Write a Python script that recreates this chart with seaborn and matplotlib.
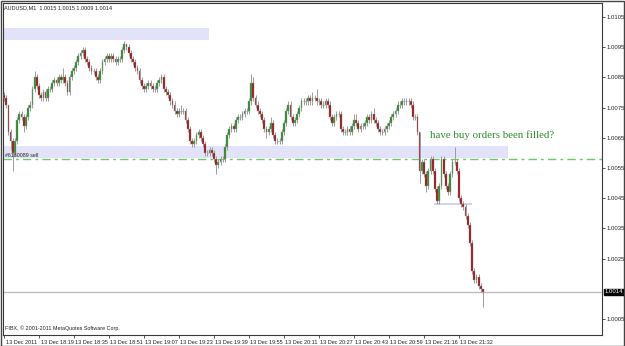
import numpy as np
import pandas as pd
import matplotlib
matplotlib.use("Agg")
import matplotlib.pyplot as plt
import matplotlib.transforms as mtransforms
from matplotlib.patches import Rectangle
from matplotlib import font_manager
import seaborn as sns

# ---------------- data ----------------
header_text = "AUDUSD,M1  1.0015 1.0015 1.0009 1.0014"
copyright_text = "FIBX, \u00a9 2001-2011 MetaQuotes Software Corp."
note_text = "have buy orders been filled?"
order_text = "#6180089 sell"

opens = [
    1.0079, 1.0078, 1.0076, 1.0067, 1.0064, 1.0060, 1.0064, 1.0071, 1.0073, 1.0072,
    1.0069, 1.0072, 1.0075, 1.0076, 1.0081, 1.0085, 1.0082, 1.0079, 1.0078, 1.0080,
    1.0078, 1.0081, 1.0081, 1.0083, 1.0084, 1.0083, 1.0085, 1.0084, 1.0085, 1.0083,
    1.0080, 1.0085, 1.0087, 1.0088, 1.0090, 1.0092, 1.0093, 1.0094, 1.0091, 1.0090,
    1.0088, 1.0087, 1.0087, 1.0085, 1.0084, 1.0087, 1.0090, 1.0091, 1.0092, 1.0091,
    1.0092, 1.0091, 1.0090, 1.0091, 1.0091, 1.0094, 1.0096, 1.0095, 1.0093, 1.0091,
    1.0090, 1.0088, 1.0087, 1.0084, 1.0082, 1.0081, 1.0082, 1.0083, 1.0082, 1.0081,
    1.0081, 1.0083, 1.0084, 1.0085, 1.0081, 1.0080, 1.0079, 1.0077, 1.0076, 1.0074,
    1.0073, 1.0074, 1.0074, 1.0074, 1.0071, 1.0068, 1.0064, 1.0063, 1.0064, 1.0066,
    1.0067, 1.0065, 1.0063, 1.0060, 1.0060, 1.0061, 1.0060, 1.0058, 1.0056, 1.0057,
    1.0058, 1.0058, 1.0062, 1.0066, 1.0068, 1.0069, 1.0068, 1.0071, 1.0072, 1.0072,
    1.0073, 1.0074, 1.0074, 1.0077, 1.0083, 1.0078, 1.0076, 1.0074, 1.0073, 1.0071,
    1.0068, 1.0067, 1.0068, 1.0070, 1.0066, 1.0064, 1.0064, 1.0064, 1.0067, 1.0070,
    1.0074, 1.0076, 1.0072, 1.0070, 1.0071, 1.0073, 1.0075, 1.0077, 1.0077, 1.0077,
    1.0078, 1.0077, 1.0078, 1.0078, 1.0077, 1.0077, 1.0076, 1.0076, 1.0077, 1.0076,
    1.0072, 1.0070, 1.0072, 1.0073, 1.0073, 1.0068, 1.0067, 1.0067, 1.0068, 1.0067,
    1.0069, 1.0071, 1.0070, 1.0068, 1.0069, 1.0069, 1.0070, 1.0072, 1.0071, 1.0073,
    1.0071, 1.0070, 1.0068, 1.0067, 1.0067, 1.0068, 1.0069, 1.0070, 1.0072, 1.0073,
    1.0074, 1.0076, 1.0076, 1.0077, 1.0077, 1.0077, 1.0077, 1.0076, 1.0072, 1.0072,
    1.0067, 1.0054, 1.0057, 1.0053, 1.0049, 1.0054, 1.0058, 1.0054, 1.0048, 1.0044,
    1.0049, 1.0058, 1.0053, 1.0049, 1.0047, 1.0053, 1.0057, 1.0057, 1.0054, 1.0045,
    1.0043, 1.0042, 1.0039, 1.0036, 1.0030, 1.0021, 1.0018, 1.0019, 1.0016, 1.0015,
]
highs = [
    1.0080, 1.0079, 1.0076, 1.0068, 1.0065, 1.0065, 1.0072, 1.0074, 1.0074, 1.0073,
    1.0073, 1.0076, 1.0077, 1.0082, 1.0087, 1.0086, 1.0083, 1.0080, 1.0081, 1.0081,
    1.0082, 1.0082, 1.0084, 1.0085, 1.0085, 1.0086, 1.0086, 1.0088, 1.0086, 1.0084,
    1.0086, 1.0088, 1.0089, 1.0091, 1.0093, 1.0094, 1.0095, 1.0095, 1.0092, 1.0091,
    1.0089, 1.0088, 1.0088, 1.0086, 1.0088, 1.0091, 1.0092, 1.0093, 1.0093, 1.0093,
    1.0093, 1.0092, 1.0092, 1.0092, 1.0095, 1.0097, 1.0096, 1.0096, 1.0094, 1.0092,
    1.0091, 1.0089, 1.0088, 1.0085, 1.0083, 1.0083, 1.0084, 1.0084, 1.0083, 1.0082,
    1.0084, 1.0085, 1.0086, 1.0086, 1.0082, 1.0081, 1.0080, 1.0078, 1.0077, 1.0075,
    1.0075, 1.0076, 1.0075, 1.0075, 1.0072, 1.0069, 1.0065, 1.0065, 1.0067, 1.0068,
    1.0068, 1.0066, 1.0064, 1.0061, 1.0062, 1.0062, 1.0061, 1.0059, 1.0058, 1.0059,
    1.0059, 1.0063, 1.0067, 1.0069, 1.0070, 1.0070, 1.0072, 1.0073, 1.0073, 1.0074,
    1.0075, 1.0075, 1.0078, 1.0086, 1.0085, 1.0079, 1.0077, 1.0075, 1.0074, 1.0072,
    1.0069, 1.0069, 1.0072, 1.0071, 1.0067, 1.0065, 1.0065, 1.0068, 1.0071, 1.0075,
    1.0077, 1.0077, 1.0073, 1.0072, 1.0074, 1.0076, 1.0078, 1.0078, 1.0078, 1.0079,
    1.0079, 1.0080, 1.0079, 1.0081, 1.0078, 1.0078, 1.0077, 1.0078, 1.0078, 1.0077,
    1.0073, 1.0073, 1.0074, 1.0074, 1.0074, 1.0069, 1.0068, 1.0069, 1.0069, 1.0070,
    1.0073, 1.0073, 1.0071, 1.0070, 1.0070, 1.0071, 1.0073, 1.0073, 1.0074, 1.0075,
    1.0072, 1.0071, 1.0069, 1.0068, 1.0069, 1.0070, 1.0071, 1.0073, 1.0074, 1.0075,
    1.0077, 1.0077, 1.0078, 1.0078, 1.0078, 1.0078, 1.0078, 1.0077, 1.0073, 1.0073,
    1.0067, 1.0058, 1.0058, 1.0054, 1.0055, 1.0059, 1.0059, 1.0055, 1.0049, 1.0050,
    1.0059, 1.0059, 1.0054, 1.0050, 1.0054, 1.0058, 1.0062, 1.0058, 1.0055, 1.0046,
    1.0044, 1.0043, 1.0040, 1.0037, 1.0031, 1.0022, 1.0020, 1.0020, 1.0017, 1.0015,
]
lows = [
    1.0077, 1.0075, 1.0066, 1.0061, 1.0054, 1.0059, 1.0063, 1.0070, 1.0071, 1.0067,
    1.0068, 1.0071, 1.0074, 1.0075, 1.0080, 1.0081, 1.0078, 1.0077, 1.0077, 1.0077,
    1.0077, 1.0080, 1.0080, 1.0082, 1.0082, 1.0082, 1.0083, 1.0083, 1.0082, 1.0079,
    1.0079, 1.0084, 1.0086, 1.0087, 1.0089, 1.0091, 1.0092, 1.0090, 1.0089, 1.0087,
    1.0086, 1.0086, 1.0084, 1.0083, 1.0083, 1.0086, 1.0089, 1.0090, 1.0090, 1.0090,
    1.0090, 1.0089, 1.0089, 1.0090, 1.0090, 1.0093, 1.0094, 1.0092, 1.0090, 1.0089,
    1.0087, 1.0086, 1.0083, 1.0081, 1.0080, 1.0080, 1.0081, 1.0081, 1.0080, 1.0080,
    1.0080, 1.0082, 1.0083, 1.0080, 1.0079, 1.0078, 1.0076, 1.0075, 1.0073, 1.0072,
    1.0072, 1.0073, 1.0073, 1.0070, 1.0067, 1.0063, 1.0062, 1.0062, 1.0063, 1.0065,
    1.0064, 1.0062, 1.0059, 1.0059, 1.0059, 1.0059, 1.0057, 1.0053, 1.0055, 1.0056,
    1.0057, 1.0057, 1.0061, 1.0065, 1.0067, 1.0067, 1.0067, 1.0070, 1.0071, 1.0071,
    1.0072, 1.0073, 1.0073, 1.0076, 1.0077, 1.0075, 1.0073, 1.0072, 1.0070, 1.0067,
    1.0065, 1.0066, 1.0067, 1.0065, 1.0063, 1.0063, 1.0063, 1.0063, 1.0066, 1.0069,
    1.0073, 1.0071, 1.0069, 1.0069, 1.0070, 1.0072, 1.0074, 1.0076, 1.0076, 1.0076,
    1.0076, 1.0076, 1.0077, 1.0076, 1.0076, 1.0075, 1.0075, 1.0075, 1.0075, 1.0071,
    1.0069, 1.0069, 1.0071, 1.0072, 1.0067, 1.0066, 1.0066, 1.0066, 1.0066, 1.0066,
    1.0068, 1.0069, 1.0067, 1.0067, 1.0068, 1.0068, 1.0069, 1.0070, 1.0070, 1.0070,
    1.0069, 1.0067, 1.0066, 1.0066, 1.0066, 1.0067, 1.0068, 1.0069, 1.0071, 1.0072,
    1.0073, 1.0075, 1.0075, 1.0076, 1.0076, 1.0076, 1.0075, 1.0071, 1.0071, 1.0066,
    1.0050, 1.0053, 1.0052, 1.0047, 1.0048, 1.0053, 1.0053, 1.0047, 1.0043, 1.0043,
    1.0048, 1.0052, 1.0048, 1.0046, 1.0046, 1.0052, 1.0056, 1.0053, 1.0044, 1.0042,
    1.0041, 1.0038, 1.0035, 1.0029, 1.0020, 1.0017, 1.0017, 1.0015, 1.0014, 1.0009,
]
closes = [
    1.0078, 1.0076, 1.0067, 1.0064, 1.0060, 1.0064, 1.0071, 1.0073, 1.0072, 1.0069,
    1.0072, 1.0075, 1.0076, 1.0081, 1.0085, 1.0082, 1.0079, 1.0078, 1.0080, 1.0078,
    1.0081, 1.0081, 1.0083, 1.0084, 1.0083, 1.0085, 1.0084, 1.0085, 1.0083, 1.0080,
    1.0085, 1.0087, 1.0088, 1.0090, 1.0092, 1.0093, 1.0094, 1.0091, 1.0090, 1.0088,
    1.0087, 1.0087, 1.0085, 1.0084, 1.0087, 1.0090, 1.0091, 1.0092, 1.0091, 1.0092,
    1.0091, 1.0090, 1.0091, 1.0091, 1.0094, 1.0096, 1.0095, 1.0093, 1.0091, 1.0090,
    1.0088, 1.0087, 1.0084, 1.0082, 1.0081, 1.0082, 1.0083, 1.0082, 1.0081, 1.0081,
    1.0083, 1.0084, 1.0085, 1.0081, 1.0080, 1.0079, 1.0077, 1.0076, 1.0074, 1.0073,
    1.0074, 1.0074, 1.0074, 1.0071, 1.0068, 1.0064, 1.0063, 1.0064, 1.0066, 1.0067,
    1.0065, 1.0063, 1.0060, 1.0060, 1.0061, 1.0060, 1.0058, 1.0056, 1.0057, 1.0058,
    1.0058, 1.0062, 1.0066, 1.0068, 1.0069, 1.0068, 1.0071, 1.0072, 1.0072, 1.0073,
    1.0074, 1.0074, 1.0077, 1.0083, 1.0078, 1.0076, 1.0074, 1.0073, 1.0071, 1.0068,
    1.0067, 1.0068, 1.0070, 1.0066, 1.0064, 1.0064, 1.0064, 1.0067, 1.0070, 1.0074,
    1.0076, 1.0072, 1.0070, 1.0071, 1.0073, 1.0075, 1.0077, 1.0077, 1.0077, 1.0078,
    1.0077, 1.0078, 1.0078, 1.0077, 1.0077, 1.0076, 1.0076, 1.0077, 1.0076, 1.0072,
    1.0070, 1.0072, 1.0073, 1.0073, 1.0068, 1.0067, 1.0067, 1.0068, 1.0067, 1.0069,
    1.0071, 1.0070, 1.0068, 1.0069, 1.0069, 1.0070, 1.0072, 1.0071, 1.0073, 1.0071,
    1.0070, 1.0068, 1.0067, 1.0067, 1.0068, 1.0069, 1.0070, 1.0072, 1.0073, 1.0074,
    1.0076, 1.0076, 1.0077, 1.0077, 1.0077, 1.0077, 1.0076, 1.0072, 1.0072, 1.0067,
    1.0054, 1.0057, 1.0053, 1.0049, 1.0054, 1.0058, 1.0054, 1.0048, 1.0044, 1.0049,
    1.0058, 1.0053, 1.0049, 1.0047, 1.0053, 1.0057, 1.0057, 1.0054, 1.0045, 1.0043,
    1.0042, 1.0039, 1.0036, 1.0030, 1.0021, 1.0018, 1.0019, 1.0016, 1.0015, 1.0014,
]

time_labels = ["13 Dec 2011", "13 Dec 18:19", "13 Dec 18:35", "13 Dec 18:51",
               "13 Dec 19:07", "13 Dec 19:23", "13 Dec 19:39", "13 Dec 19:55",
               "13 Dec 20:11", "13 Dec 20:27", "13 Dec 20:43", "13 Dec 20:59",
               "13 Dec 21:16", "13 Dec 21:32"]
bars_per_label = 16

price_ticks = [1.0105, 1.0095, 1.0085, 1.0075, 1.0065, 1.0055,
               1.0045, 1.0035, 1.0025, 1.0005]
current_price = 1.0014
order_price = 1.0058
upper_zone = (1.00974, 1.01014)
lower_zone = (1.00583, 1.00623)
small_level = 1.0043

# ---------------- styling ----------------
sns.set_theme(style="white")
installed = {f.name for f in font_manager.fontManager.ttflist}
small_font = "Liberation Sans Narrow" if "Liberation Sans Narrow" in installed else "Liberation Sans"
plt.rcParams["font.family"] = [small_font, "DejaVu Sans"]

df = pd.DataFrame({"open": opens, "high": highs, "low": lows, "close": closes})
df["bar"] = np.arange(len(df))

fig = plt.figure(figsize=(6.25, 3.46), dpi=100)
fig.patch.set_facecolor("white")
ax = fig.add_axes([3 / 625, 11 / 346, 599 / 625, 332 / 346])
ax.set_facecolor("white")

xmin, xmax = -0.46, 273.4
ax.set_xlim(xmin, xmax)
ax.set_ylim(0.99997, 1.01096)

band_color = "#e2e2f8"
ax.add_patch(Rectangle((xmin, upper_zone[0]), 93.8 - xmin, upper_zone[1] - upper_zone[0],
                       facecolor=band_color, edgecolor="none", zorder=0))
ax.add_patch(Rectangle((xmin, lower_zone[0]), 230.5 - xmin, lower_zone[1] - lower_zone[0],
                       facecolor=band_color, edgecolor="none", zorder=0))
ax.hlines(small_level, 196.6, 214.0, color="#c8c8f0", lw=1.2, zorder=0)
ax.axhline(order_price, color="#66cc66", lw=1.0, ls=(0, (6, 3, 2, 3)), zorder=1)
ax.axhline(current_price, color="#b8b8c0", lw=0.9, zorder=1)

# candles
wick_color = "#9c9c9c"
bull_color = "#1e8c1e"
bear_color = "#9a0c0c"
ax.vlines(df["bar"], df["low"], df["high"], color=wick_color, lw=0.7, zorder=2)
lo = np.minimum(df["open"], df["close"])
hgt = (df["close"] - df["open"]).abs()
up = df["close"] > df["open"]
dn = df["close"] < df["open"]
eq = df["close"] == df["open"]
bw = 0.8
ax.bar(df["bar"][up], hgt[up], bottom=lo[up], width=bw, color=bull_color,
       edgecolor=wick_color, linewidth=0.3, zorder=3)
ax.bar(df["bar"][dn], hgt[dn], bottom=lo[dn], width=bw, color=bear_color,
       edgecolor=wick_color, linewidth=0.3, zorder=3)
ax.hlines(df["close"][eq], df["bar"][eq] - bw / 2, df["bar"][eq] + bw / 2,
          color=wick_color, lw=0.8, zorder=3)

# axes / ticks
for s in ax.spines.values():
    s.set_color("#3a3a3a")
    s.set_linewidth(0.8)
ax.yaxis.tick_right()
ax.set_yticks(price_ticks)
ax.set_yticklabels([f"{p:.4f}" for p in price_ticks])
ax.tick_params(axis="y", which="major", direction="out", length=2.5, width=0.6,
               color="#3a3a3a", labelsize=4.3, pad=1.0, labelcolor="#222222",
               right=True, left=False)
xt = [i * bars_per_label for i in range(len(time_labels))]
ax.set_xticks(xt)
ax.set_xticklabels(time_labels)
ax.tick_params(axis="x", which="major", direction="out", length=2.5, width=0.6,
               color="#3a3a3a", labelsize=4.0, pad=0.8, labelcolor="#222222",
               bottom=True)
offset = mtransforms.ScaledTranslation(1.5 / 100, 0, fig.dpi_scale_trans)
for lab in ax.get_xticklabels():
    lab.set_horizontalalignment("left")
    lab.set_transform(lab.get_transform() + offset)
ax.grid(False)

# current price box on the right
ytrans = mtransforms.blended_transform_factory(ax.transAxes, ax.transData)
ax.text(1.004, current_price, f"{current_price:.4f}", transform=ytrans,
        ha="left", va="center", fontsize=4.3, color="white", clip_on=False,
        bbox=dict(boxstyle="square,pad=0.12", facecolor="black", edgecolor="black"))

# texts
ax.text(194.7, 1.00659, note_text, ha="left", va="center", fontsize=7.8,
        color="#2a8c2a", family=["Liberation Serif", "DejaVu Serif"], zorder=5)
ax.text(0.5, order_price + 0.00004, order_text, ha="left", va="bottom",
        fontsize=3.8, color="#222222", zorder=5)
fig.text(4 / 625, 1 - 8 / 346, header_text, ha="left", va="center",
         fontsize=4.0, color="#222222")
fig.text(5 / 625, 1 - 328 / 346, copyright_text, ha="left", va="center",
         fontsize=3.9, color="#222222")

# outer window frame
fig.add_artist(Rectangle((0.5 / 625, 0.5 / 346), 623.5 / 625, 344.5 / 346,
                         transform=fig.transFigure, fill=False,
                         edgecolor="#444444", lw=1.0))

fig.savefig("out.png", dpi=100)
